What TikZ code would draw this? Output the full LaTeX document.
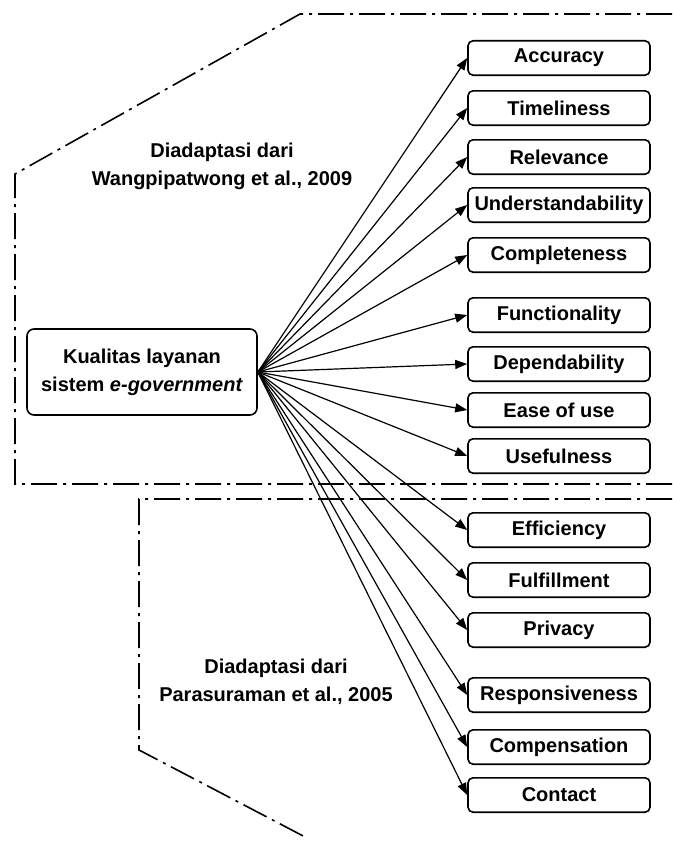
\documentclass[tikz,border=0pt]{standalone}
\usepackage{fontspec}
\setmainfont{Liberation Sans}
\usepackage{tikz}
\usetikzlibrary{positioning}
\usetikzlibrary{arrows.meta}
\tikzset{node distance=13pt,
    factor/.style={
        draw,
        rounded corners=5pt,
        line width=1.6pt,
        minimum width=182pt,
        minimum height=34.4pt,
        inner sep=0pt,
        font=\fontsize{20}{28}\selectfont\bfseries},
    construct/.style={
        draw,
        rounded corners=7pt,
        line width=1.6pt,
        minimum width=230pt,
        minimum height=86pt,
        align=center,
        font=\fontsize{20}{28}\selectfont\bfseries},
    source/.style={
        align=center,
        font=\fontsize{20}{28}\selectfont\bfseries},
    region/.style={
        line width=1.6pt,
        dash pattern=on 26pt off 6pt on 3pt off 6pt},
    every edge/.style={
        draw,
        -{Triangle[length=12pt,width=9pt]},
        line width=1.2pt}}

\begin{document}
\begin{tikzpicture}[x=1pt,y=-1pt]
        \useasboundingbox (0,0) rectangle (672,843);

        % sources
        \draw[region] (672,14) -- (300,14) -- (15,174) -- (15,484) -- (672,484);
        \draw[region] (672,499) -- (139,499) -- (139,750) -- (307,838);
        \node[source] (wang) at (222,166) {Diadaptasi dari\\Wangpipatwong et al., 2009};
        \node[source] (para) at (276,682) {Diadaptasi dari\\Parasuraman et al., 2005};

        \node[construct] (kualitas) at (142,372) {Kualitas layanan\\sistem \textit{e-government}};

        \node[factor] (acc) at (559,58) {Accuracy};
        \node[factor,below=14pt of acc] (tim) {Timeliness};
        \node[factor,below=of tim] (rel) {Relevance};
        \node[factor,below=12pt of rel] (und) {Understandability};
        \node[factor,below=14pt of und] (com) {Completeness};
        \node[factor,below=24pt of com] (fun) {Functionality};
        \node[factor,below=of fun] (dep) {Dependability};
        \node[factor,below=10pt of dep] (eas) {Ease of use};
        \node[factor,below=10pt of eas] (use) {Usefulness};
        %\node[factor,below=of use] (eff) {Efficiency};
        \node[factor,below=38pt of use] (eff) {Efficiency};
        \node[factor,below=14pt of eff] (ful) {Fulfillment};
        \node[factor,below=14pt of ful] (pri) {Privacy};
        \node[factor,below=29pt of pri] (res) {Responsiveness};
        \node[factor,below=16pt of res] (cmp) {Compensation};
        \node[factor,below=12pt of cmp] (con) {Contact};

        \draw (kualitas.east) edge (acc.west);
        \draw (kualitas.east) edge (tim.west);
        \draw (kualitas.east) edge (rel.west);
        \draw (kualitas.east) edge (und.west);
        \draw (kualitas.east) edge (com.west);
        \draw (kualitas.east) edge (fun.west);
        \draw (kualitas.east) edge (dep.west);
        \draw (kualitas.east) edge (eas.west);
        \draw (kualitas.east) edge (use.west);
        \draw (kualitas.east) edge (eff.west);
        \draw (kualitas.east) edge (ful.west);
        \draw (kualitas.east) edge (pri.west);
        \draw (kualitas.east) edge (res.west);
        \draw (kualitas.east) edge (cmp.west);
        \draw (kualitas.east) edge (con.west);
    \end{tikzpicture}
\end{document}
